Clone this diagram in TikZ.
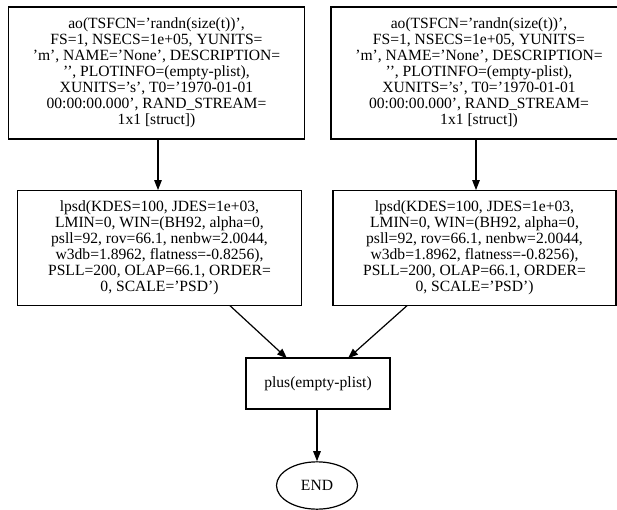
\documentclass[tikz,border=0pt]{standalone}
\usepackage{fontspec}
\setmainfont{Liberation Serif}
\usetikzlibrary{arrows.meta,shapes.geometric}
\begin{document}
\begin{tikzpicture}[x=0.75pt,y=-0.75pt,
  every node/.style={font=\fontsize{11.7pt}{12pt}\selectfont, align=center, inner sep=0pt},
  box/.style={draw, line width=0.9pt, rectangle},
  oval/.style={draw, line width=0.9pt, ellipse},
  edge/.style={draw, line width=0.9pt, -{Triangle[length=7.5pt,width=5.6pt]}}]
\useasboundingbox (0,0) rectangle (617,510);
\begin{scope}
\clip (0,0) rectangle (617,510);
\node[box, minimum width=222pt, minimum height=99pt] (b1) at (156.5,73)
 {ao(TSFCN='randn(size(t))',\\ FS=1, NSECS=1e+05, YUNITS=\\ 'm', NAME='None', DESCRIPTION=\\ '{}', PLOTINFO=(empty-plist),\\ XUNITS='s', T0='1970-01-01\\ 00:00:00.000', RAND\_STREAM=\\ 1x1 [struct])};
\node[box, minimum width=222pt, minimum height=99pt] (b2) at (479,73)
 {ao(TSFCN='randn(size(t))',\\ FS=1, NSECS=1e+05, YUNITS=\\ 'm', NAME='None', DESCRIPTION=\\ '{}', PLOTINFO=(empty-plist),\\ XUNITS='s', T0='1970-01-01\\ 00:00:00.000', RAND\_STREAM=\\ 1x1 [struct])};
\node[box, minimum width=213.3pt, minimum height=86.25pt] (b3) at (159.5,248.2)
 {lpsd(KDES=100, JDES=1e+03,\\ LMIN=0, WIN=(BH92, alpha=0,\\ psll=92, rov=66.1, nenbw=2.0044,\\ w3db=1.8962, flatness=-0.8256),\\ PSLL=200, OLAP=66.1, ORDER=\\ 0, SCALE='PSD')};
\node[box, minimum width=212.25pt, minimum height=86.25pt] (b4) at (474.5,248.2)
 {lpsd(KDES=100, JDES=1e+03,\\ LMIN=0, WIN=(BH92, alpha=0,\\ psll=92, rov=66.1, nenbw=2.0044,\\ w3db=1.8962, flatness=-0.8256),\\ PSLL=200, OLAP=66.1, ORDER=\\ 0, SCALE='PSD')};
\node[box, minimum width=108pt, minimum height=38.25pt] (p) at (318,383.5) {plus(empty-plist)};
\node[oval, minimum width=60.75pt, minimum height=35.5pt] (e) at (317,485.5) {END};
\coordinate (s1) at (158,139);
\coordinate (s2) at (476,139);
\coordinate (s3) at (230,305.7);
\coordinate (s4) at (407,305.7);
\coordinate (t3) at (287,358.3);
\coordinate (t4) at (348,358.3);
\draw[edge] (s1) -- (s1 |- b3.north);
\draw[edge] (s2) -- (s2 |- b4.north);
\draw[edge] (s3) -- (t3);
\draw[edge] (s4) -- (t4);
\draw[edge] (p.south -| e.north) -- (e.north);
\end{scope}
\end{tikzpicture}
\end{document}
